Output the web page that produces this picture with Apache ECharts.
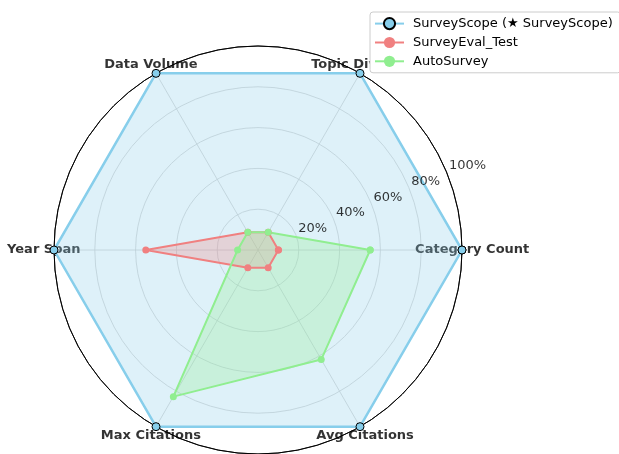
<!DOCTYPE html>
<html>
<head>
<meta charset="utf-8">
<script src="https://cdn.jsdelivr.net/npm/echarts@6/dist/echarts.min.js"></script>
<style>
  html, body { margin: 0; padding: 0; background: #fff; }
  #chart { width: 619px; height: 454px; }
</style>
</head>
<body>
<div id="chart"></div>
<script>
// 坐标轴名称（逆时针，从右侧开始）
const categories = ['Category Count', 'Topic Diversity', 'Data Volume', 'Year Span', 'Max Citations', 'Avg Citations']
const surveyScope = [100, 100, 100, 100, 100, 100]
const surveyEval = [10, 10, 10, 55, 10, 10]
const autoSurvey = [55, 10, 10, 10, 83, 62]
const tickValues = [20, 40, 60, 80, 100]

;(function () {
  let myChart = echarts.init(document.getElementById('chart'))
  const font = 'DejaVu Sans'

  // [半径, 角度]，首尾闭合
  function loop (values) {
    let pts = values.map((v, i) => [v, i * 60])
    pts.push([values[0], 360])
    return pts
  }

  function lineSeries (name, values, color, width, symbolSize, border) {
    return {
      name: name,
      type: 'line',
      coordinateSystem: 'polar',
      polarIndex: 0,
      data: loop(values),
      symbol: 'circle',
      symbolSize: symbolSize,
      lineStyle: { color: color, width: width },
      itemStyle: { color: color, borderColor: border || color, borderWidth: border ? 1 : 0 },
      areaStyle: { color: color, opacity: 0.28 },
      clip: false,
      z: 3
    }
  }

  let option = {
    animation: false,
    textStyle: { fontFamily: font },
    polar: [
      { center: [258, 250], radius: 204 },
      { center: [258, 250], radius: 224.4 }
    ],
    angleAxis: [
      {
        polarIndex: 0,
        type: 'value',
        min: 0,
        max: 360,
        interval: 60,
        startAngle: 0,
        clockwise: false,
        axisLine: { lineStyle: { color: '#000', width: 1 } },
        axisTick: { show: false },
        axisLabel: { show: false },
        splitLine: { lineStyle: { color: '#d0d0d0', width: 0.8 } }
      },
      {
        polarIndex: 1,
        type: 'value',
        min: 0,
        max: 360,
        startAngle: 0,
        clockwise: false,
        show: false
      }
    ],
    radiusAxis: [
      {
        polarIndex: 0,
        min: 0,
        max: 100,
        interval: 20,
        axisLine: { show: false },
        axisTick: { show: false },
        axisLabel: { show: false },
        splitLine: {
          lineStyle: { color: ['#d0d0d0', '#d0d0d0', '#d0d0d0', '#d0d0d0', '#d0d0d0', '#000'], width: 0.8 }
        }
      },
      { polarIndex: 1, min: 0, max: 110, show: false }
    ],
    legend: {
      data: ['SurveyScope (★ SurveyScope)', 'SurveyEval_Test', 'AutoSurvey'],
      orient: 'vertical',
      left: 370,
      top: 12,
      padding: [5, 8, 5, 4],
      itemWidth: 29,
      itemHeight: 14,
      itemGap: 5.8,
      backgroundColor: '#fff',
      borderColor: '#cccccc',
      borderWidth: 1,
      borderRadius: 3,
      textStyle: { fontFamily: font, fontSize: 13, color: '#000', padding: [0, 0, 0, 4] }
    },
    series: [
      lineSeries('SurveyScope (★ SurveyScope)', surveyScope, '#87CEEB', 2.5, 8, '#000'),
      lineSeries('SurveyEval_Test', surveyEval, '#F08080', 2, 7),
      lineSeries('AutoSurvey', autoSurvey, '#90EE90', 2, 7),
      {
        // 坐标轴名称
        name: 'names',
        type: 'scatter',
        coordinateSystem: 'polar',
        polarIndex: 1,
        symbolSize: 1,
        itemStyle: { color: 'rgba(0,0,0,0)' },
        clip: false,
        data: categories.map((c, i) => ({ name: c, value: [105, i * 60] })),
        label: {
          show: true,
          position: 'inside',
          formatter: '{b}',
          fontFamily: font,
          fontSize: 13,
          fontWeight: 'bold',
          color: '#000',
          textBorderWidth: 0
        },
        z: 2
      },
      {
        // 半径刻度
        name: 'ticks',
        type: 'scatter',
        coordinateSystem: 'polar',
        polarIndex: 1,
        symbolSize: 1,
        itemStyle: { color: 'rgba(0,0,0,0)' },
        clip: false,
        data: tickValues.map(v => [v, 22.5]),
        label: {
          show: true,
          position: 'right',
          distance: 2,
          offset: [0, -6],
          formatter: p => p.value[0] + '%',
          fontFamily: font,
          fontSize: 13,
          color: '#000',
          textBorderWidth: 0
        },
        z: 4
      }
    ]
  }

  myChart.setOption(option)
})()
</script>
</body>
</html>
